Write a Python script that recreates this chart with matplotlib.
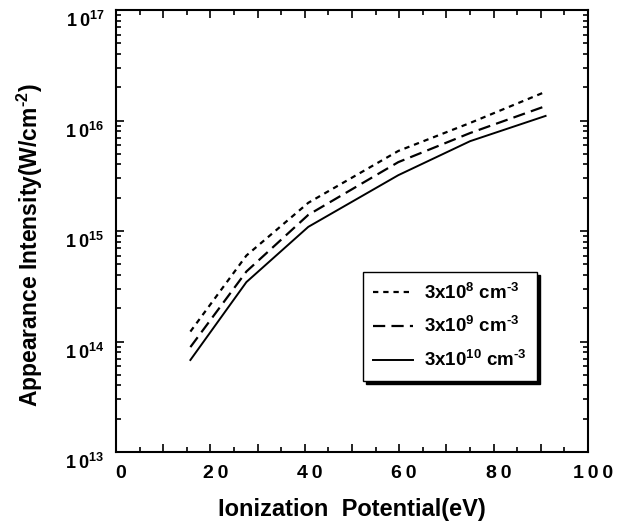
import matplotlib
matplotlib.use("Agg")
import matplotlib.pyplot as plt
import matplotlib.transforms as mtransforms
from matplotlib.ticker import LogLocator, MultipleLocator, NullFormatter, FuncFormatter
import numpy as np

plt.rcParams['font.family'] = ['Liberation Sans', 'DejaVu Sans']
plt.rcParams['font.weight'] = 'bold'
plt.rcParams['mathtext.fontset'] = 'custom'
plt.rcParams['mathtext.rm'] = 'Liberation Sans:bold'
plt.rcParams['mathtext.bf'] = 'Liberation Sans:bold'
plt.rcParams['mathtext.it'] = 'Liberation Sans:bold'
plt.rcParams['mathtext.default'] = 'bf'
plt.rcParams['axes.unicode_minus'] = False

# Data (ionization potentials, eV) and appearance intensities (W/cm^2)
ionization_potential = [15.76, 27.63, 40.74, 59.81, 75.02, 91.01]
intensity_3e8 = [1.23e14, 6.0e14, 1.8e15, 5.3e15, 9.5e15, 1.82e16]
intensity_3e9 = [8.9e13, 4.3e14, 1.4e15, 4.2e15, 7.7e15, 1.35e16]
intensity_3e10 = [6.8e13, 3.45e14, 1.09e15, 3.2e15, 6.5e15, 1.1e16]
labels = [r'3x10$^{8}$ cm$^{\text{-}3}$', r'3x10$^{9}$ cm$^{\text{-}3}$',
          r'3x10$^{10}$ cm$^{\text{-}3}$']

x_labelled = [0, 20, 40, 60, 80, 100]

fig = plt.figure(figsize=(6.24, 5.23), dpi=100)
W, H = 624, 523
ax = fig.add_axes([116 / W, 1 - 452 / H, (588 - 116) / W, (452 - 10) / H])

ax.plot(ionization_potential, intensity_3e8, color='black', lw=1.6,
        linestyle=(0, (2.4, 2.2)), label=labels[0])
ax.plot(ionization_potential, intensity_3e9, color='black', lw=1.6,
        linestyle=(0, (5.5, 2.8)), label=labels[1])
ax.plot(ionization_potential, intensity_3e10, color='black', lw=1.4,
        linestyle='-', label=labels[2])

ax.set_yscale('log')
ax.set_xlim(0, 100)
ax.set_ylim(1e13, 1e17)

ax.xaxis.set_major_locator(MultipleLocator(10))
ax.xaxis.set_minor_locator(MultipleLocator(5))
ax.yaxis.set_major_locator(LogLocator(base=10, numticks=10))
ax.yaxis.set_minor_locator(LogLocator(base=10, subs=np.arange(2, 10), numticks=10))
ax.yaxis.set_minor_formatter(NullFormatter())

def yfmt(v, pos):
    e = int(round(np.log10(v)))
    return '1\u20090$^{%d}$' % e
ax.yaxis.set_major_formatter(FuncFormatter(yfmt))

def xfmt(v, pos):
    iv = int(round(v))
    return '\u2009'.join(str(iv)) if iv in x_labelled else ''
ax.xaxis.set_major_formatter(FuncFormatter(xfmt))

ax.tick_params(which='both', direction='in', top=True, right=True, width=1.2)
ax.tick_params(which='major', length=6)
ax.tick_params(which='minor', length=3.5)
ax.tick_params(axis='y', which='major', labelsize=13, pad=8)
ax.tick_params(axis='x', which='major', labelsize=14, pad=9)
for s in ax.spines.values():
    s.set_linewidth(1.5)

xoff = mtransforms.ScaledTranslation(5 / 100, 0, fig.dpi_scale_trans)
for lab in ax.get_xticklabels():
    lab.set_transform(lab.get_transform() + xoff)
yoff = mtransforms.ScaledTranslation(0, -9 / 100, fig.dpi_scale_trans)
for lab in ax.get_yticklabels():
    lab.set_transform(lab.get_transform() + yoff)

ax.set_xlabel('Ionization  Potential(eV)', fontsize=17, fontweight='bold', labelpad=12)
ax.set_ylabel(r'Appearance Intensity(W/cm$^{\text{-}2}$)', fontsize=16.5,
              fontweight='bold')
ax.yaxis.set_label_coords(-0.15, 0.468)

leg = ax.legend(loc='upper left', bbox_to_anchor=(0.523, 0.407), fontsize=13.5,
                frameon=True, fancybox=False, edgecolor='black', handlelength=2.15,
                handletextpad=0.55, labelspacing=0.74, borderpad=0.55,
                borderaxespad=0,
                shadow={'color': 'black', 'alpha': 1, 'ox': 2, 'oy': -2})
leg.get_frame().set_linewidth(1.0)

fig.savefig('out.png', dpi=100)
